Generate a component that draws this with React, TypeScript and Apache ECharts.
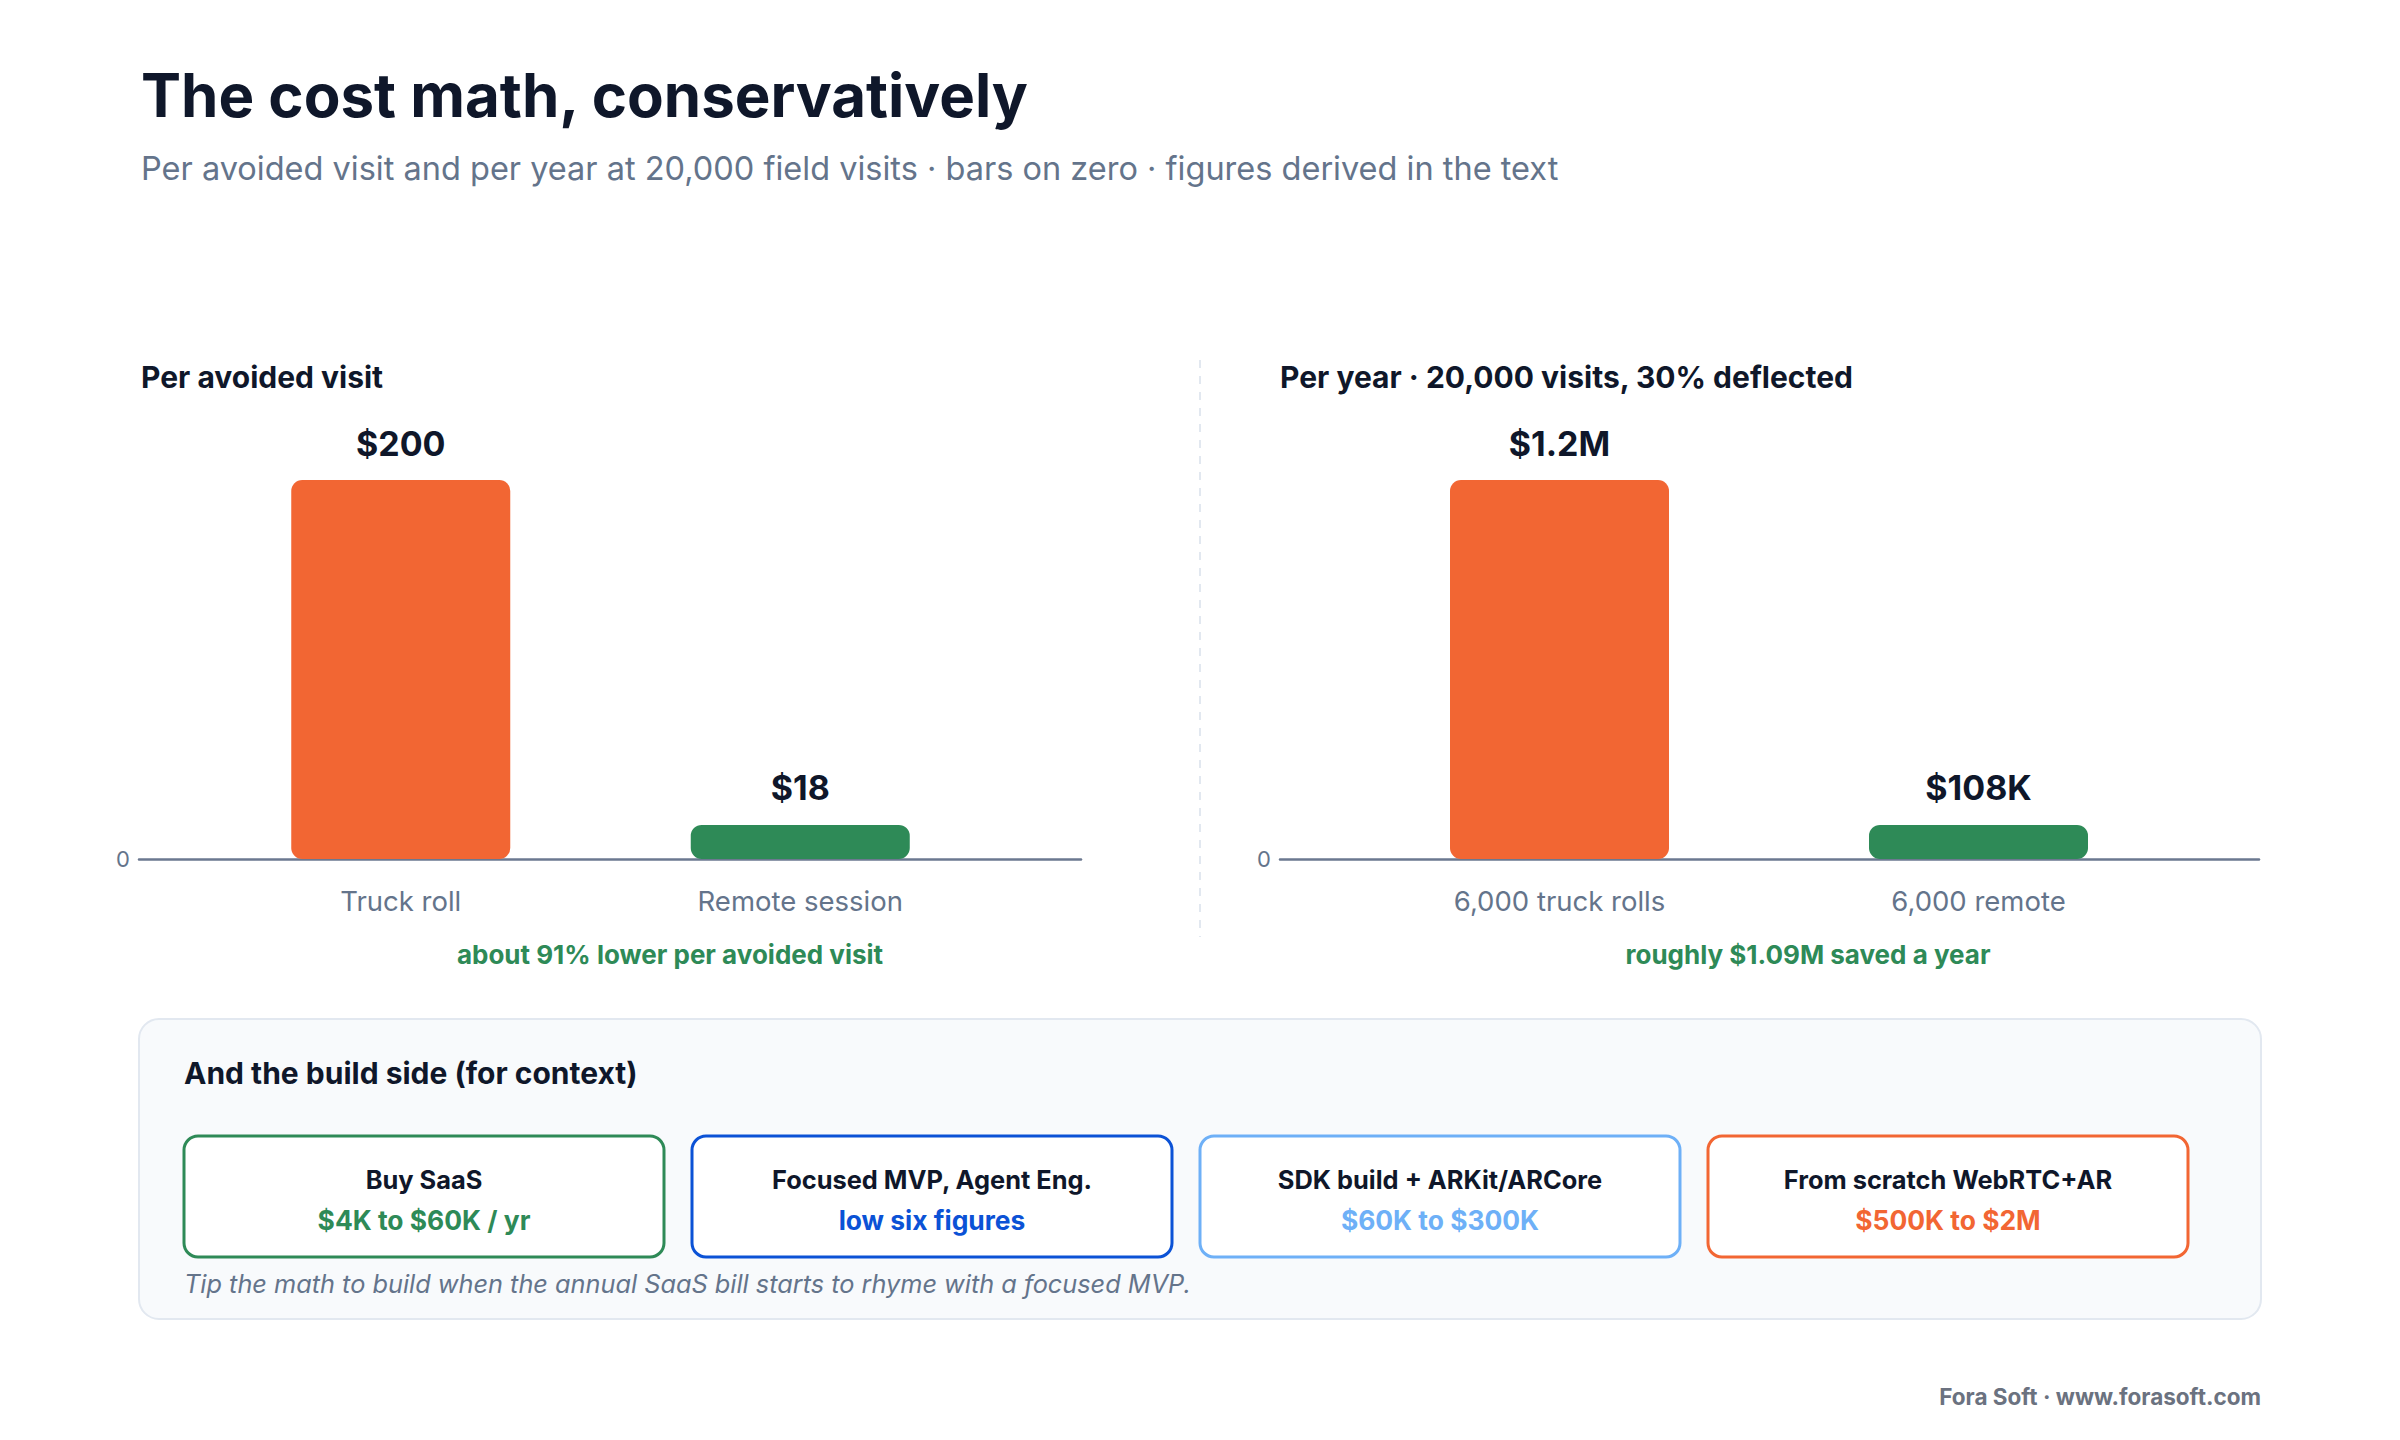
import React, { useEffect, useRef } from "react";
import * as echarts from "echarts";

const perVisitCategories = ["Truck roll", "Remote session"];
const perVisitValues = [200, 18];
const perYearCategories = ["6,000 truck rolls", "6,000 remote"];
const perYearValues = [1200000, 108000];
const barColors = ["#f26633", "#2e8a57"];

const buildOptions = ["Buy SaaS", "Focused MVP, Agent Eng.", "SDK build + ARKit/ARCore", "From scratch WebRTC+AR"];
const buildCosts = ["$4K to $60K / yr", "low six figures", "$60K to $300K", "$500K to $2M"];
const buildColors = ["#2e8a57", "#0b52d6", "#6eb0f7", "#f26633"];

const FONT = "Inter, 'Noto Sans', sans-serif";
const DARK = "#0f172a";
const SLATE = "#64748b";

function money(v: number): string {
  if (v >= 1e6) return "$" + v / 1e6 + "M";
  if (v >= 1e3) return "$" + v / 1e3 + "K";
  return "$" + v;
}

export default function App() {
  const ref = useRef<HTMLDivElement>(null);
  useEffect(() => {
    const chart = echarts.init(ref.current!, null, { renderer: "svg" });

    const top = 480;
    const height = 379;
    const grids = [
      { left: 139, width: 942, top, height },
      { left: 201, width: 799, top, height },
      { left: 1280, width: 979, top, height },
      { left: 1350, width: 838, top, height },
    ];

    const axisOnlyX = (gi: number) => ({
      type: "category",
      gridIndex: gi,
      data: [""],
      axisLine: { show: true, lineStyle: { color: "#6b7890", width: 2.5 } },
      axisTick: { show: false },
      axisLabel: { show: false },
    });
    const barX = (gi: number, cats: string[]) => ({
      type: "category",
      gridIndex: gi,
      data: cats,
      axisLine: { show: false },
      axisTick: { show: false },
      axisLabel: { show: true, color: SLATE, fontSize: 27.5, fontFamily: FONT, margin: 28 },
    });
    const valY = (gi: number, max: number, showZero: boolean) => ({
      type: "value",
      gridIndex: gi,
      min: 0,
      max,
      interval: max,
      splitLine: { show: false },
      axisLine: { show: false },
      axisTick: { show: false },
      axisLabel: {
        show: showZero,
        color: SLATE,
        fontSize: 22,
        fontFamily: FONT,
        margin: 9,
        formatter: (v: number) => (v === 0 ? "0" : ""),
      },
    });

    const barSeries = (xi: number, values: number[]) => ({
      type: "bar",
      xAxisIndex: xi,
      yAxisIndex: xi,
      barWidth: 219,
      data: values.map((v, i) => ({ value: v, itemStyle: { color: barColors[i], borderRadius: 11 } })),
      label: {
        show: true,
        position: "top",
        distance: 20,
        color: DARK,
        fontSize: 34,
        fontWeight: "bold",
        fontFamily: FONT,
        formatter: (p: any) => money(p.value),
      },
    });

    const cardW = 480;
    const cardGap = 28;
    const cardLeft = 184;
    const cardTop = 1136;
    const cardH = 121;

    const cards: any[] = [];
    buildOptions.forEach((name, i) => {
      const x = cardLeft + i * (cardW + cardGap);
      cards.push({
        type: "rect",
        shape: { x: x, y: cardTop, width: cardW, height: cardH, r: 14 },
        style: { fill: "#ffffff", stroke: buildColors[i], lineWidth: 3 },
      });
      cards.push({
        type: "text",
        x: x + cardW / 2,
        y: 1179,
        style: { text: name, fill: DARK, fontSize: 25.4, fontWeight: "bold", fontFamily: FONT, align: "center", verticalAlign: "middle" },
      });
      cards.push({
        type: "text",
        x: x + cardW / 2,
        y: 1220,
        style: { text: buildCosts[i], fill: buildColors[i], fontSize: 26.4, fontWeight: "bold", fontFamily: FONT, align: "center", verticalAlign: "middle" },
      });
    });

    const txt = (text: string, x: number, y: number, size: number, fill: string, weight: string = "normal", align: string = "left", style: string = "normal") => ({
      type: "text",
      x,
      y,
      style: { text, fill, fontSize: size, fontWeight: weight, fontStyle: style, fontFamily: FONT, align, verticalAlign: "middle" },
    });

    chart.setOption({
      animation: false,
      backgroundColor: "#ffffff",
      grid: grids,
      xAxis: [axisOnlyX(0), barX(1, perVisitCategories), axisOnlyX(2), barX(3, perYearCategories)],
      yAxis: [
        valY(0, perVisitValues[0], true),
        valY(1, perVisitValues[0], false),
        valY(2, perYearValues[0], true),
        valY(3, perYearValues[0], false),
      ],
      series: [barSeries(1, perVisitValues), barSeries(3, perYearValues)],
      graphic: [
        txt("The cost math, conservatively", 141, 95, 60, DARK, "bold"),
        txt("Per avoided visit and per year at 20,000 field visits · bars on zero · figures derived in the text", 141, 168, 32.5, SLATE),
        txt("Per avoided visit", 141, 377, 30, DARK, "bold"),
        txt("Per year · 20,000 visits, 30% deflected", 1280, 377, 30, DARK, "bold"),
        {
          type: "line",
          shape: { x1: 1200, y1: 360, x2: 1200, y2: 937 },
          style: { stroke: "#e2e8f0", lineWidth: 2, lineDash: [8, 8] },
        },
        txt("about 91% lower per avoided visit", 670, 954, 26, "#2e8a57", "bold", "center"),
        txt("roughly $1.09M saved a year", 1808, 954, 26, "#2e8a57", "bold", "center"),
        {
          type: "rect",
          shape: { x: 139, y: 1019, width: 2122, height: 300, r: 20 },
          style: { fill: "#f8fafc", stroke: "#e2e8f0", lineWidth: 2 },
        },
        txt("And the build side (for context)", 184, 1073, 30, DARK, "bold"),
        ...cards,
        txt("Tip the math to build when the annual SaaS bill starts to rhyme with a focused MVP.", 184, 1283, 25.3, SLATE, "normal", "left", "italic"),
        txt("Fora Soft · www.forasoft.com", 2261, 1396, 22.5, "#6b7280", "bold", "right"),
      ],
    });
    return () => chart.dispose();
  }, []);
  return <div ref={ref} style={{ position: "fixed", left: 0, top: 0, width: 2400, height: 1440 }} />;
}
